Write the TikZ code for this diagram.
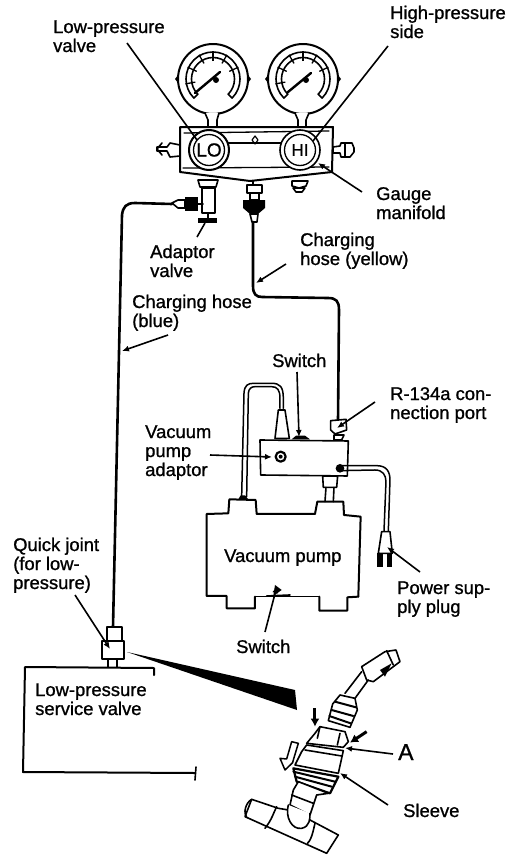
\documentclass[tikz,border=0pt]{standalone}
\usepackage{fontspec}
\setmainfont{Liberation Sans}[FakeBold=1.0]
\usetikzlibrary{arrows.meta}
\tikzset{
 lbl/.style={font=\fontsize{18.4}{19}\selectfont,align=left,anchor=base west,inner sep=0pt},
 part/.style={draw=black,line width=1.6pt,line join=round,line cap=round},
 hose/.style={draw=black,line width=2.6pt,line cap=round},
 leader/.style={draw=black,line width=1.6pt,-{Latex[length=7pt,width=6pt]}},
 plainleader/.style={draw=black,line width=1.6pt},
 blockarrow/.style={draw=black,line width=3pt,-{Latex[length=8pt,width=9pt]}}
}
\newcommand{\gaugeunit}[5]{%
 \draw[part,line width=2pt] (#1,#2) circle (35);
 \fill (#1-38,#2) -- ++(3,-4) -- ++(0,8) -- cycle;
 \fill (#1+38,#2) -- ++(-3,-4) -- ++(0,8) -- cycle;
 \draw[part,line width=1.6pt] (#1,#2) +(135:27) arc (135:405:27);
 \draw[part,line width=1.6pt] (#1,#2) +(135:21.5) arc (135:405:21.5);
 \draw[part] (#1,#2) +(135:21.5) -- +(135:27) +(405:21.5) -- +(405:27);
 \foreach \a in {170,205,240,270,300,335}{\draw[black,line width=1.3pt] (#1,#2) ++(\a:18) -- ++(\a:10);}
 \draw[black,line width=2.4pt,line cap=round] (#3,#4) -- (#5);
 \fill (#1+3,#2+1) circle (3);
}
\begin{document}
\begin{tikzpicture}[x=1pt,y=-1pt]
\useasboundingbox[fill=white] (0,0) rectangle (512,862);

% gauges
\gaugeunit{213}{79}{195}{93}{220,72}
\gaugeunit{303}{79}{288}{92}{311,73}
\draw[part,fill=white] (205,113) -- (208,120) -- (208,127) -- (217,127) -- (217,120) -- (219,113);
\draw[part,fill=white] (295,113) -- (298,120) -- (298,127) -- (306,127) -- (306,120) -- (309,113);

% manifold
\draw[part,line width=2pt] (180,127) -- (333,127) -- (332,172) -- (250,181) -- (180,172) -- cycle;
\draw[part,line width=1.3pt] (184,133) -- (329,131);
\draw[part,line width=1.3pt] (183,168) -- (329,167);
\draw[part,line width=1.2pt] (228,143) -- (282,143);
\draw[part,line width=1.2pt] (255,136) -- (252,140) -- (255,144) -- (258,140) -- cycle;
\draw[part,fill=white,line width=2pt] (209,150) circle (20);
\draw[part,line width=1.3pt] (209,150) circle (15.5);
\draw[part,fill=white,line width=1.6pt] (300,150) circle (20);
\draw[part,line width=1.3pt] (300,150) circle (15.5);
\node[font=\fontsize{19}{19}\selectfont] (lo) at (209,150) {LO};
\node[font=\fontsize{17}{17}\selectfont] (hi) at (300,150) {HI};
% side fittings
\draw[part,fill=white] (180,145) -- (170,143) -- (167,147) -- (157,147) -- (157,151) -- (167,151) -- (170,157) -- (180,156) -- cycle;
\draw[part] (162,143) -- (157,149) -- (162,155) ;
\draw[part,fill=white] (333,147) -- (340,146) -- (341,143) -- (352,143) -- (354,148) -- (354,152) -- (350,157) -- (341,157) -- (340,153) -- (333,153) -- cycle;
\draw[part] (345,143) -- (345,157);
% bottom fittings
\draw[part,fill=white] (198,180) -- (218,180) -- (216,187) -- (200,187) -- cycle;
\draw[part,fill=white] (202,188) rectangle (215,213);
\draw[part] (208,213) -- (208,219);
\fill (198,218) rectangle (217,223);
\draw[part] (253,181) -- (253,185);
\draw[part,fill=white] (247,185) rectangle (262,193);
\draw[part,fill=white] (250,193) rectangle (259,200);
\fill (243,200) -- (265,200) -- (265,208) -- (258,214) -- (250,214) -- (243,208) -- cycle;
\draw[part,fill=white] (250,214) -- (258,214) -- (257,222) -- (252,222) -- cycle;
\draw[part,fill=white] (292,181) -- (308,181) -- (306,186) -- (299,188) -- (292,186) -- cycle;
\draw[part,fill=white] (293,188) -- (305,188) -- (302,192) -- (296,192) -- cycle;
% adaptor side connection
\fill (185,197) rectangle (198,211);
\draw[part,fill=white] (172,203) -- (178,200) -- (185,200) -- (185,208) -- (178,208) -- cycle;
\draw[part] (198,204) -- (203,204);

% hoses
\coordinate (bluestart) at (172,204);
\coordinate (blueend) at (113,627);
\coordinate (yellowstart) at (253,222);
\coordinate (yellowend) at (338,421);
\draw[hose] (bluestart) -- (135,203) .. controls (126,203) and (123,207) .. (122,215) -- (blueend);
\draw[hose] (yellowstart) -- (253,286) .. controls (253,294) and (256,297) .. (262,297) -- (328,298) .. controls (336,298) and (339,301) .. (339,310) -- (yellowend);

% vacuum pump adaptor (zoom coordinates)
\begin{scope}[shift={(190,340)},x=.3333pt,y=-.3333pt]
 \draw[part,line width=2pt] (505,770) -- (472,772) -- (472,812) -- (388,812) -- (388,770);
 \draw[part,line width=2pt] (195,770) -- (195,805) -- (110,805) -- (110,768) -- (50,768) -- (50,522) -- (115,520) -- (118,478) -- (197,480) -- (200,522) -- (375,522) -- (382,485) -- (460,485) -- (462,525) -- (512,530) -- (505,770);
 \draw[draw=black,line width=1pt] (195,770) -- (388,770);
 % box
 \draw[part,fill=white] (210,300) -- (475,303) -- (472,408) -- (212,405) -- cycle;
 \draw[part,fill=white] (398,408) -- (443,408) -- (440,442) -- (400,442) -- cycle;
 \draw[part] (408,442) -- (405,485) (432,442) -- (430,485);
 % return hose
 \draw[part,line width=1.5pt] (155,470) -- (162,160) .. controls (163,135) and (175,130) .. (190,130) -- (245,130) .. controls (270,130) and (280,140) .. (280,175) -- (280,205);
 \draw[part,line width=1.5pt] (170,470) -- (175,160) .. controls (176,145) and (185,140) .. (195,140) -- (245,140) .. controls (262,140) and (270,150) .. (270,175) -- (270,205);
 \fill (145,478) -- (175,478) -- (165,466) -- (152,466) -- cycle;
 \draw[part,fill=white] (265,210) -- (285,210) -- (298,295) -- (255,295) -- cycle;
 % switch
 \fill (305,298) -- (360,298) -- (345,287) -- (318,287) -- cycle;
 % r134a port
 \draw[part,fill=white] (432,285) -- (462,285) -- (455,300) -- (432,300) -- cycle;
 \draw[part,fill=white] (422,242) -- (468,238) -- (470,270) -- (435,282) -- (422,270) -- cycle;
 % knob
 \draw[part,line width=2.2pt] (272,350) circle (15);
 \fill (272,350) circle (6);
 % power cord
 \draw[part,line width=1.5pt] (450,377) -- (560,377) .. controls (590,377) and (600,395) .. (600,420) -- (595,575);
 \draw[part,line width=1.5pt] (450,392) -- (555,390) .. controls (578,390) and (588,405) .. (588,425) -- (582,575);
 \fill (450,385) circle (13);
 \draw[part,fill=white] (575,575) -- (600,575) -- (607,640) -- (565,640) -- cycle;
 \fill (560,640) rectangle (578,680);
 \fill (590,640) rectangle (606,680);
 % bottom switch
 \draw[part,line width=1.6pt] (230,768) -- (300,765);
 \fill (255,735) -- (275,750) -- (250,768) -- cycle;
\end{scope}

% quick joint
\draw[part,fill=white] (107,627) rectangle (122,641);
\draw[part,fill=white] (102,641) rectangle (124,659);
\draw[part] (108,659) -- (108,667) (117,659) -- (117,667);
% service valve box
\draw[part,line width=2pt] (154,675) -- (154,668) -- (25,667) -- (23,772) -- (195,773);
\draw[part] (196,767) -- (195,780);
% wedge
\fill (127,652) -- (295,690) -- (297,710) -- cycle;

% service fitting (zoom coordinates)
\begin{scope}[shift={(230,630)},x=.3333pt,y=-.3333pt]
 \draw[part,fill=white] (395,110) -- (465,65) -- (498,60) -- (510,95) -- (430,155) -- (410,150) -- cycle;
 \draw[part] (470,62) -- (490,105);
 \fill (450,120) -- (485,100) -- (465,140) -- cycle;
 \draw[part] (395,125) -- (345,190) (415,150) -- (375,205);
 \draw[part,fill=white] (330,195) -- (375,205) -- (382,240) -- (360,292) -- (295,272) -- (308,222) -- cycle;
 \draw[part,line width=2pt] (315,215) -- (378,232) (305,240) -- (370,258) (298,258) -- (362,280);
 \draw[part,fill=white] (270,290) -- (345,305) -- (355,335) -- (340,352) -- (230,340) -- (255,310) -- cycle;
 \draw[part] (270,290) -- (262,325) (330,310) -- (322,345);
 \draw[part,fill=white] (230,345) -- (340,362) -- (325,430) -- (195,405) -- (215,365) -- cycle;
 \draw[part] (225,360) -- (335,378);
 \draw[part,fill=white,line width=2.2pt] (190,415) -- (325,440) -- (300,490) -- (200,455) -- cycle;
 \draw[part,line width=2pt] (190,425) -- (315,455) (195,440) -- (305,470);
 \draw[part,fill=white] (205,455) -- (295,490) -- (260,495) -- (240,555) -- (180,525) -- (190,480) -- cycle;
 \draw[part] (185,495) -- (250,520);
 % pipe
 \draw[part,fill=white] (65,508) -- (145,535) -- (175,540) -- (240,570) -- (325,615) -- (290,670) -- (45,560) -- cycle;
 \draw[part] (65,508) .. controls (45,520) and (40,550) .. (50,562);
 \draw[part] (140,530) .. controls (130,550) and (125,570) .. (105,595);
 \draw[part] (255,580) .. controls (250,600) and (245,630) .. (232,640);
 \draw[part,fill=white] (175,525) .. controls (165,560) and (185,600) .. (215,595) .. controls (240,590) and (240,565) .. (240,550);
 % markers
 \coordinate (dA) at (255,235); \coordinate (dB) at (255,290);
 \coordinate (eA) at (410,305); \coordinate (eB) at (360,338);
 \draw[blockarrow] (dA) -- (dB);
 \draw[blockarrow] (eA) -- (eB);
 \draw[part,fill=white,line width=1.5pt] (185,335) -- (205,340) -- (190,390) -- (188,398) -- (165,420) -- (150,385) -- (170,387) -- cycle;
\end{scope}

% labels (y is the baseline of the last line)
\node[lbl] (lpv) at (53,52) {Low-pressure\\valve};
\node[lbl] (hps) at (390,38) {High-pressure\\side};
\node[lbl] (gm) at (376,219) {Gauge\\manifold};
\node[lbl] (av) at (150,277) {Adaptor\\valve};
\node[lbl] (chy) at (300,265) {Charging\\hose (yellow)};
\node[lbl] (chb) at (132,327) {Charging hose\\(blue)};
\node[lbl] (sw1) at (272,367) {Switch};
\node[lbl] (r134) at (390,419) {R-134a con-\\nection port};
\node[lbl] (vpa) at (145,476) {Vacuum\\pump\\adaptor};
\node[lbl] (vp) at (224,562) {Vacuum pump};
\node[lbl] (psp) at (397,613) {Power sup-\\ply plug};
\node[lbl] (sw2) at (236,653) {Switch};
\node[lbl] (qj) at (13,589) {Quick joint\\(for low-\\pressure)};
\node[lbl] (lpsv) at (35,715) {Low-pressure\\service valve};
\node[lbl,font=\fontsize{23}{23}\selectfont] (a) at (398,760) {A};
\node[lbl] (slv) at (403,817) {Sleeve};

% leaders
\coordinate (lpvT) at (197,140);
\coordinate (hpsT) at (313,141);
\coordinate (gmT) at (318,163);
\coordinate (avT) at (205,223);
\coordinate (chyT) at (256,283);
\coordinate (chbT) at (122,351);
\coordinate (sw1T) at (299,437);
\coordinate (r134T) at (337,428);
\coordinate (vpaT) at (272,457);
\coordinate (pspT) at (387,547);
\coordinate (sw2T) at (277,586);
\coordinate (qjT) at (110,649);
\coordinate (aT) at (345,748);
\coordinate (slvT) at (340,773);
\draw[plainleader] (127,43) -- (lpvT);
\draw[plainleader] (388,46) -- (hpsT);
\draw[leader] (362,192) -- (gmT);
\draw[plainleader] (197,237) -- (avT);
\draw[leader] (286,264) -- (chyT);
\draw[leader] (168,335) -- (chbT);
\draw[leader] (297,372) -- (sw1T);
\draw[leader] (375,402) -- (r134T);
\draw[leader] (210,455) -- (vpaT);
\draw[leader] (420,572) -- (pspT);
\draw[leader] (265,632) -- (sw2T);
\draw[leader] (75,595) -- (qjT);
\draw[leader] (393,754) -- (aT);
\draw[leader] (388,805) -- (slvT);
\end{tikzpicture}
\end{document}
